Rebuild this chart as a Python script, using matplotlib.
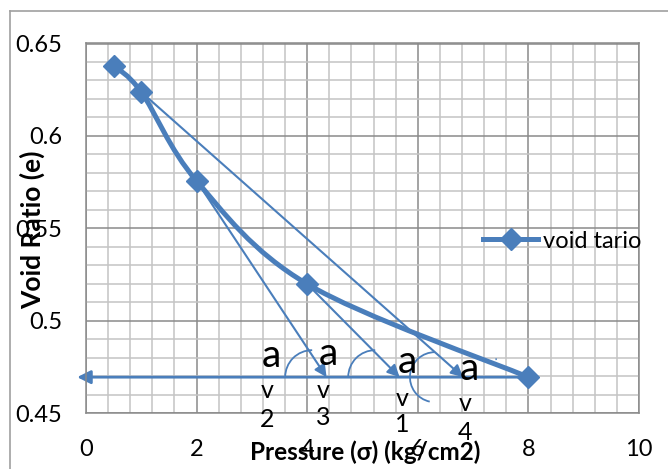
import numpy as np
import matplotlib
matplotlib.use("Agg")
import matplotlib.pyplot as plt
from matplotlib.path import Path
from matplotlib.patches import PathPatch, Arc
from matplotlib.lines import Line2D

plt.rcParams['font.family'] = ['Lato', 'DejaVu Sans']

# data
pressure = [0.5, 1, 2, 4, 8]
void_ratio = [0.638, 0.6237, 0.5756, 0.5198, 0.4694]
series_name = "void tario"

# construction arrows: (start index on curve, end x on base line)
arrow_starts = [1, 2, 3]
arrow_ends = [6.82, 4.35, 5.67]
base_end_x = -0.16

# angle labels (baseline positions)
a_pos = [(3.35, 0.4749), (4.39, 0.4760), (5.82, 0.4717), (6.94, 0.4679)]
v_x = [3.27, 4.29, 5.71, 6.85]
v_y = [0.4582, 0.4582, 0.4538, 0.4511]
v_digits = ["2", "3", "1", "4"]
d_y = [0.4425, 0.4435, 0.4397, 0.4354]
arc_centers = [4.09, 5.23, 6.31, 7.43]
arc_radius_px = [27, 27, 25, 18]
arc_angles = [(90, 180), (90, 180), (85, 188), (95, 160)]

blue = '#4A7EBB'

fig = plt.figure(figsize=(6.68, 4.69), dpi=100)
ax = fig.add_axes([86/668, 1-413/469, (639-86)/668, (413-43.5)/469])
ax.set_xlim(0, 10)
ax.set_ylim(0.45, 0.65)

ax.set_xticks(np.arange(0, 11, 2))
ax.set_xticks(np.arange(0, 10.01, 0.4), minor=True)
ax.set_yticks([0.45, 0.5, 0.55, 0.6, 0.65])
ax.set_yticklabels(['0.45', '0.5', '0.55', '0.6', '0.65'])
ax.set_yticks(np.arange(0.45, 0.6501, 0.01), minor=True)
ax.grid(which='minor', color='#c4c4c4', linewidth=1.1)
ax.grid(which='major', color='#8a8a8a', linewidth=1.1)
ax.set_axisbelow(True)
ax.tick_params(which='both', length=0)
ax.tick_params(axis='x', pad=19, labelsize=17)
ax.tick_params(axis='y', pad=17, labelsize=17)
for s in ax.spines.values():
    s.set_color('#8a8a8a')
    s.set_linewidth(1.1)

# smoothed curve (Catmull-Rom as cubic beziers, like Excel smoothing)
pts = np.column_stack([pressure, void_ratio])
verts = [pts[0]]
codes = [Path.MOVETO]
n = len(pts)
for i in range(n - 1):
    p0 = pts[max(i - 1, 0)]
    p1 = pts[i]
    p2 = pts[i + 1]
    p3 = pts[min(i + 2, n - 1)]
    verts += [p1 + (p2 - p0) / 6, p2 - (p3 - p1) / 6, p2]
    codes += [Path.CURVE4] * 3
ax.add_patch(PathPatch(Path(verts, codes), fill=False, edgecolor=blue,
                       linewidth=3.6, capstyle='round', joinstyle='round', zorder=3))
ax.plot(pressure, void_ratio, linestyle='none', marker='D', markersize=11,
        color=blue, zorder=4)

# construction arrows
for i, xe in zip(arrow_starts, arrow_ends):
    ax.annotate('', xy=(xe, void_ratio[-1]), xytext=(pressure[i], void_ratio[i]),
                arrowprops=dict(arrowstyle='-|>', color=blue, lw=1.5,
                                mutation_scale=18, shrinkA=0, shrinkB=0),
                zorder=2)
ax.annotate('', xy=(base_end_x, void_ratio[-1]), xytext=(pressure[-1], void_ratio[-1]),
            arrowprops=dict(arrowstyle='-|>', color=blue, lw=2,
                            mutation_scale=20, shrinkA=0, shrinkB=0),
            annotation_clip=False, zorder=2)

xpx = 55.3
ypx = 1847.5
for cx, r, (t1, t2) in zip(arc_centers, arc_radius_px, arc_angles):
    ax.add_patch(Arc((cx, void_ratio[-1]), 2*r/xpx, 2*r/ypx, theta1=t1, theta2=t2,
                     color=blue, lw=1.3, zorder=2))

for (x, y) in a_pos:
    ax.text(x, y, 'a', fontsize=28, ha='center', va='baseline', zorder=5)
for x, y, dy, d in zip(v_x, v_y, d_y, v_digits):
    ax.text(x, y, 'v', fontsize=18, ha='center', va='baseline', clip_on=False, zorder=5)
    ax.text(x, dy, d, fontsize=18, ha='center', va='baseline', clip_on=False, zorder=5)

fig.text(365/668, 1-452/469, 'Pressure (σ) (kg/cm2)', fontsize=17.5,
         fontweight='bold', ha='center', va='center')
fig.text(32/668, 1-230/469, 'Void Ratio (e)', fontsize=19, fontweight='bold',
         rotation=90, ha='center', va='center')

handle = Line2D([], [], color=blue, lw=3.6, marker='D', markersize=11)
ax.legend([handle], [series_name], loc='center left', frameon=False,
          bbox_to_anchor=(483/668, 1-241/469), bbox_transform=fig.transFigure,
          borderpad=0, borderaxespad=0, handlelength=2.35, handletextpad=0.2,
          fontsize=17)

# chart border
fig.add_artist(Line2D([10/668, 1], [1-11/469, 1-11/469], color='#a0a0a0', lw=1.2))
fig.add_artist(Line2D([10/668, 10/668], [0, 1-11/469], color='#a0a0a0', lw=1.2))

fig.savefig('out.png', dpi=100)
